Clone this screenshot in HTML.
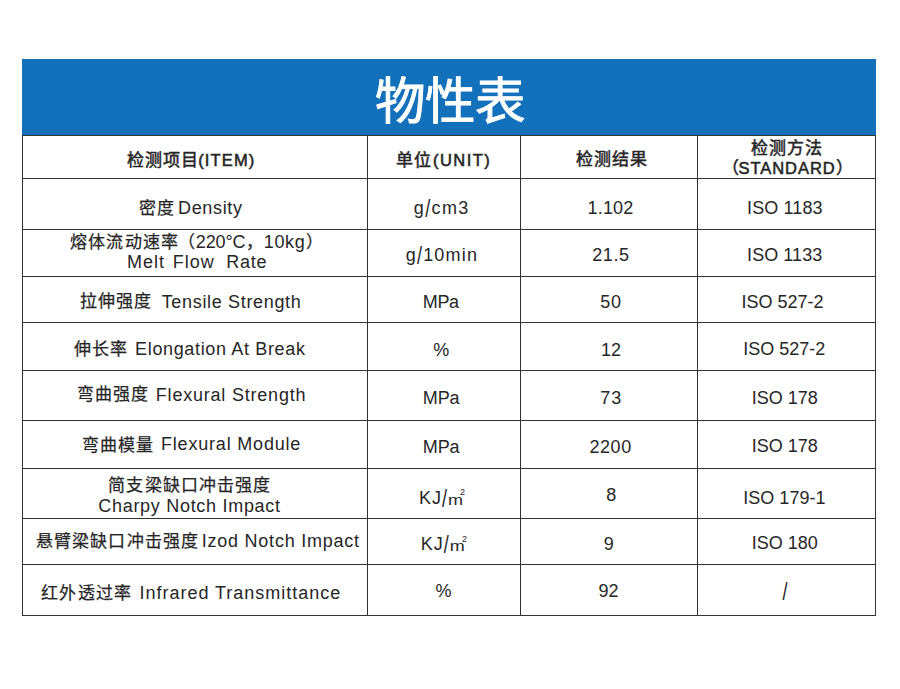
<!DOCTYPE html>
<html lang="zh-CN"><head><meta charset="utf-8">
<style>
html,body{margin:0;padding:0;background:#fff;}
body{width:900px;height:689px;position:relative;overflow:hidden;font-family:"Liberation Sans",sans-serif;color:#262626;}
.blue{position:absolute;left:22px;top:59px;width:854px;height:76px;background:#1371bb;}
.title{position:absolute;left:0;top:64px;width:900px;height:76px;line-height:76px;text-align:center;color:#fff;font-size:50.5px;-webkit-text-stroke:0.9px #fff;}
.h{position:absolute;left:22px;width:854px;height:1px;background:#333;}
.v{position:absolute;top:135px;width:1px;height:481px;background:#333;}
.t{position:absolute;white-space:nowrap;line-height:20px;}
.sl{display:inline-block;transform:scaleY(1.35);transform-origin:50% 7.3px;}
.m2{display:inline-block;transform:scaleY(0.82);transform-origin:50% 100%;}
</style></head><body>
<div class="blue"></div>
<div class="title">物性表</div>
<div class="h" style="top:135px"></div>
<div class="h" style="top:178px"></div>
<div class="h" style="top:229px"></div>
<div class="h" style="top:276px"></div>
<div class="h" style="top:322px"></div>
<div class="h" style="top:370px"></div>
<div class="h" style="top:420px"></div>
<div class="h" style="top:468px"></div>
<div class="h" style="top:518px"></div>
<div class="h" style="top:564px"></div>
<div class="h" style="top:615px"></div>
<div class="v" style="left:22px"></div>
<div class="v" style="left:367px"></div>
<div class="v" style="left:520px"></div>
<div class="v" style="left:697px"></div>
<div class="v" style="left:875px"></div>
<div class="t" style="left:126.77px;top:151.00px;font-size:17px;letter-spacing:1.0px;-webkit-text-stroke:0.5px currentColor">检测项目</div>
<div class="t" style="left:198.23px;top:150.00px;font-size:16.5px;letter-spacing:1.14px;-webkit-text-stroke:0.55px currentColor">(ITEM)</div>
<div class="t" style="left:396.21px;top:151.00px;font-size:17px;letter-spacing:1.0px;-webkit-text-stroke:0.5px currentColor">单位</div>
<div class="t" style="left:433.04px;top:150.00px;font-size:16.5px;letter-spacing:1.44px;-webkit-text-stroke:0.55px currentColor">(UNIT)</div>
<div class="t" style="left:575.50px;top:150.00px;font-size:17px;letter-spacing:1.0px;-webkit-text-stroke:0.5px currentColor">检测结果</div>
<div class="t" style="left:751.44px;top:139.00px;font-size:17px;letter-spacing:1.0px;-webkit-text-stroke:0.5px currentColor">检测方法</div>
<div class="t" style="left:721.56px;top:159.00px;font-size:17px;letter-spacing:0px;-webkit-text-stroke:0.5px currentColor">（</div>
<div class="t" style="left:738.47px;top:158.00px;font-size:16.5px;letter-spacing:0.957px;-webkit-text-stroke:0.55px currentColor">STANDARD</div>
<div class="t" style="left:836.24px;top:159.00px;font-size:17px;letter-spacing:0px;-webkit-text-stroke:0.5px currentColor">）</div>
<div class="t" style="left:138.50px;top:199.00px;font-size:17px;letter-spacing:1.0px;-webkit-text-stroke:0.25px currentColor">密度</div>
<div class="t" style="left:178.00px;top:198.00px;font-size:18px;letter-spacing:0.667px">Density</div>
<div class="t" style="left:413.75px;top:198.00px;font-size:18px;letter-spacing:1.375px">g<span class="sl">/</span>cm3</div>
<div class="t" style="left:587.43px;top:198.00px;font-size:18px;letter-spacing:0.225px">1.102</div>
<div class="t" style="left:747.04px;top:198.00px;font-size:18px;letter-spacing:0.114px">ISO 1183</div>
<div class="t" style="left:69.99px;top:233.00px;font-size:17px;letter-spacing:1.18px;-webkit-text-stroke:0.25px currentColor">熔体流动速率</div>
<div class="t" style="left:178.48px;top:233.00px;font-size:17px;letter-spacing:0px;-webkit-text-stroke:0.25px currentColor">（</div>
<div class="t" style="left:195.79px;top:232.00px;font-size:18px;letter-spacing:-0.125px">220°C</div>
<div class="t" style="left:246.02px;top:233.00px;font-size:17px;letter-spacing:0px;-webkit-text-stroke:0.25px currentColor">，</div>
<div class="t" style="left:263.71px;top:232.00px;font-size:18px;letter-spacing:0.7px">10kg</div>
<div class="t" style="left:305.98px;top:233.00px;font-size:17px;letter-spacing:0px;-webkit-text-stroke:0.25px currentColor">）</div>
<div class="t" style="left:127.01px;top:252.00px;font-size:18px;letter-spacing:1.0px">Melt</div>
<div class="t" style="left:172.76px;top:252.00px;font-size:18px;letter-spacing:1.0px">Flow</div>
<div class="t" style="left:226.27px;top:252.00px;font-size:18px;letter-spacing:0.7px">Rate</div>
<div class="t" style="left:405.74px;top:245.00px;font-size:18px;letter-spacing:1.2px">g<span class="sl">/</span>10min</div>
<div class="t" style="left:592.27px;top:245.00px;font-size:18px;letter-spacing:0.567px">21.5</div>
<div class="t" style="left:747.07px;top:245.00px;font-size:18px;letter-spacing:0.071px">ISO 1133</div>
<div class="t" style="left:80.25px;top:292.00px;font-size:17px;letter-spacing:1.0px;-webkit-text-stroke:0.25px currentColor">拉伸强度</div>
<div class="t" style="left:161.70px;top:292.00px;font-size:18px;letter-spacing:0.667px">Tensile Strength</div>
<div class="t" style="left:422.79px;top:292.00px;font-size:18px;letter-spacing:-0.35px">MPa</div>
<div class="t" style="left:600.28px;top:292.00px;font-size:18px;letter-spacing:0.8px">50</div>
<div class="t" style="left:741.53px;top:292.00px;font-size:18px;letter-spacing:-0.013px">ISO 527-2</div>
<div class="t" style="left:74.27px;top:340.00px;font-size:17px;letter-spacing:1.0px;-webkit-text-stroke:0.25px currentColor">伸长率</div>
<div class="t" style="left:135.09px;top:339.00px;font-size:18px;letter-spacing:0.65px">Elongation At Break</div>
<div class="t" style="left:433.23px;top:340.00px;font-size:18px;letter-spacing:0px">%</div>
<div class="t" style="left:601.00px;top:340.00px;font-size:18px;letter-spacing:0.0px">12</div>
<div class="t" style="left:743.23px;top:339.00px;font-size:18px;letter-spacing:0.013px">ISO 527-2</div>
<div class="t" style="left:77.02px;top:385.00px;font-size:17px;letter-spacing:1.0px;-webkit-text-stroke:0.25px currentColor">弯曲强度</div>
<div class="t" style="left:155.84px;top:385.00px;font-size:18px;letter-spacing:0.788px">Flexural Strength</div>
<div class="t" style="left:422.85px;top:388.00px;font-size:18px;letter-spacing:-0.15px">MPa</div>
<div class="t" style="left:600.25px;top:388.00px;font-size:18px;letter-spacing:1.0px">73</div>
<div class="t" style="left:751.74px;top:388.00px;font-size:18px;letter-spacing:0.0px">ISO 178</div>
<div class="t" style="left:81.71px;top:436.00px;font-size:17px;letter-spacing:1.0px;-webkit-text-stroke:0.25px currentColor">弯曲模量</div>
<div class="t" style="left:161.03px;top:434.00px;font-size:18px;letter-spacing:0.807px">Flexural Module</div>
<div class="t" style="left:422.85px;top:437.00px;font-size:18px;letter-spacing:-0.15px">MPa</div>
<div class="t" style="left:589.50px;top:437.00px;font-size:18px;letter-spacing:0.533px">2200</div>
<div class="t" style="left:751.74px;top:436.00px;font-size:18px;letter-spacing:0.0px">ISO 178</div>
<div class="t" style="left:108.45px;top:476.00px;font-size:17px;letter-spacing:1.037px;-webkit-text-stroke:0.25px currentColor">简支梁缺口冲击强度</div>
<div class="t" style="left:98.27px;top:496.00px;font-size:18px;letter-spacing:0.706px">Charpy Notch Impact</div>
<div class="t" style="left:419.04px;top:488.00px;font-size:18px;letter-spacing:1.0px">KJ<span class="sl">/</span><span class="m2">m</span></div>
<div class="t" style="left:459.94px;top:482.00px;font-size:9px;letter-spacing:0px">2</div>
<div class="t" style="left:606.28px;top:485.00px;font-size:18px;letter-spacing:0px">8</div>
<div class="t" style="left:743.24px;top:488.00px;font-size:18px;letter-spacing:0.025px">ISO 179-1</div>
<div class="t" style="left:35.51px;top:532.00px;font-size:17px;letter-spacing:1.213px;-webkit-text-stroke:0.25px currentColor">悬臂梁缺口冲击强度</div>
<div class="t" style="left:201.71px;top:531.00px;font-size:18px;letter-spacing:0.769px">Izod Notch Impact</div>
<div class="t" style="left:420.78px;top:534.00px;font-size:18px;letter-spacing:1.0px">KJ<span class="sl">/</span><span class="m2">m</span></div>
<div class="t" style="left:461.96px;top:529.00px;font-size:9px;letter-spacing:0px">2</div>
<div class="t" style="left:603.72px;top:534.00px;font-size:18px;letter-spacing:0px">9</div>
<div class="t" style="left:751.74px;top:533.00px;font-size:18px;letter-spacing:0.0px">ISO 180</div>
<div class="t" style="left:40.98px;top:584.00px;font-size:17px;letter-spacing:1.35px;-webkit-text-stroke:0.25px currentColor">红外透过率</div>
<div class="t" style="left:139.50px;top:583.00px;font-size:18px;letter-spacing:0.981px">Infrared Transmittance</div>
<div class="t" style="left:435.48px;top:581.00px;font-size:18px;letter-spacing:0px">%</div>
<div class="t" style="left:598.47px;top:581.00px;font-size:18px;letter-spacing:-0.1px">92</div>
<div class="t" style="left:782.53px;top:581.00px;font-size:18px;letter-spacing:0px"><span class="sl">/</span></div>
</body></html>
